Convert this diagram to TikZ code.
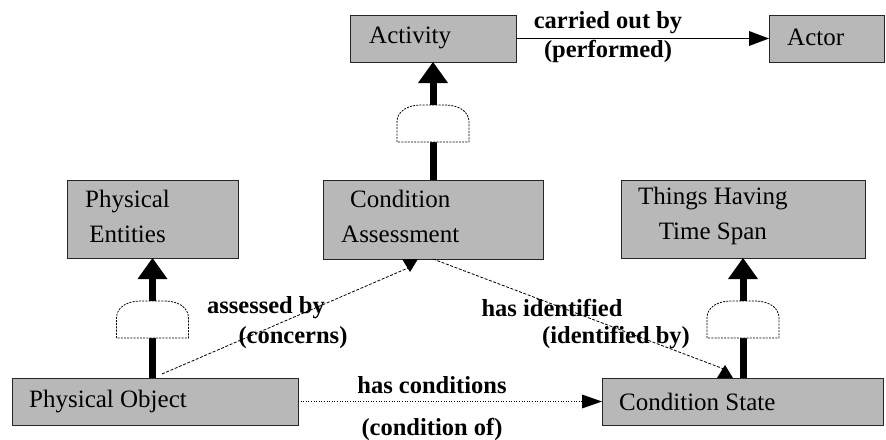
\documentclass[tikz,border=0pt]{standalone}
\usepackage{fontspec}
\setmainfont{Liberation Serif}
\usetikzlibrary{calc}

% bell-shaped generalization marker, origin at its top centre (y grows downward)
\tikzset{
  bellline/.style={draw=black, fill=white, line width=0.8pt, dash pattern=on 2pt off 1.2pt},
  bell/.pic={
    \path[bellline] (-36,37) -- (-36,17) .. controls (-36,6) and (-25,0) .. (-12,0)
      -- (12,0) .. controls (25,0) and (36,6) .. (36,17) -- (36,37) -- cycle;
  }
}

% thick is-a link from #1 (below) to #2 (above)
\newcommand\genlink[2]{%
  \draw[shaft] (#1.north -| #2.south) -- ($(#2.south)+(0,20)$);
  \fill (#2.south) -- ++(-15,21) -- ++(30,0) -- cycle;
  \pic at ($(#2.south)+(0,43)$) {bell};
}

\begin{document}
\begin{tikzpicture}[x=1pt,y=-1pt,
  box/.style={draw=black!85, line width=0.9pt, fill=black!28, inner sep=0pt, outer sep=0pt},
  boxtext/.style={anchor=west, align=center, inner sep=0pt, font=\fontsize{25}{35}\selectfont},
  rel/.style={inner sep=0pt, align=center, font=\fontsize{24.5}{29}\selectfont\bfseries},
  shaft/.style={line width=7pt},
  assoc/.style={line width=0.8pt, dash pattern=on 3pt off 1.6pt},
  dotline/.style={line width=0.9pt, dash pattern=on 1pt off 1.6pt},
]
\useasboundingbox (0,0) rectangle (886,439);

% classes
\node[box, minimum width=166pt, minimum height=47pt] (act)   at (433,38.5)  {};
\node[box, minimum width=115pt, minimum height=47pt] (actor) at (826.5,38.5) {};
\node[box, minimum width=220pt, minimum height=79pt] (ca)    at (433,219.5) {};
\node[box, minimum width=171pt, minimum height=78pt] (pe)    at (152.5,219) {};
\node[box, minimum width=244pt, minimum height=78pt] (th)    at (743,219)   {};
\node[box, minimum width=286pt, minimum height=47pt] (po)    at (155,401.5) {};
\node[box, minimum width=281pt, minimum height=47pt] (cs)    at (742.5,401.5) {};

\node[boxtext] (actT)   at ($(act.west)+(19,-1)$)   {Activity};
\node[boxtext] (actorT) at ($(actor.west)+(18,-1)$) {Actor};
\node[boxtext] (caT)    at ($(ca.west)+(18,-3)$)    {Condition\\Assessment};
\node[boxtext] (peT)    at ($(pe.west)+(18,-3)$)    {Physical\\Entities};
\node[boxtext] (thT)    at ($(th.west)+(17,-3)$)    {Things Having\\Time Span};
\node[boxtext] (poT)    at ($(po.west)+(17,0)$)     {Physical Object};
\node[boxtext] (csT)    at ($(cs.west)+(17,0)$)     {Condition State};

% is-a links
\genlink{ca}{act}
\genlink{po}{pe}
\genlink{cs}{th}

% carried out by
\draw[line width=0.8pt] (act.east) -- ($(actor.west)+(-19,0)$);
\fill (actor.west) -- ++(-20,-7.5) -- ++(0,15) -- cycle;
\node[rel] (lcarried) at (608,37.5) {carried out by\\(performed)};

% assessed by
\coordinate (poA) at ($(po.north west)+(150,-4)$);
\coordinate (caA) at ($(ca.south west)+(87,0)$);
\draw[assoc] (poA) -- ($(caA)+(-2,9)$);
\fill ($(caA)+(-8,0)$) -- ($(caA)+(8,0)$) -- ($(caA)+(0,13)$) -- cycle;
\node[rel] (lassessed) at (266,308) {assessed by};
\node[rel] (lconcerns) at (293,338) {(concerns)};

% has identified
\coordinate (csB) at ($(cs.north west)+(123,0)$);
\draw[assoc] (ca.south) -- ($(csB)+(-1,-9)$);
\fill ($(csB)+(-8,0)$) -- ($(csB)+(8,0)$) -- ($(csB)+(0,-13)$) -- cycle;
\node[rel] (lhasid) at (552,308) {has identified};
\node[rel] (lidby)  at (616,338) {(identified by)};

% has conditions
\draw[dotline] (po.east) -- ($(cs.west)+(-19,0)$);
\fill (cs.west) -- ++(-20,-7) -- ++(0,14) -- cycle;
\node[rel] (lhascond) at (432,385) {has conditions};
\node[rel] (lcondof)  at (432,429) {(condition of)};
\end{tikzpicture}
\end{document}
